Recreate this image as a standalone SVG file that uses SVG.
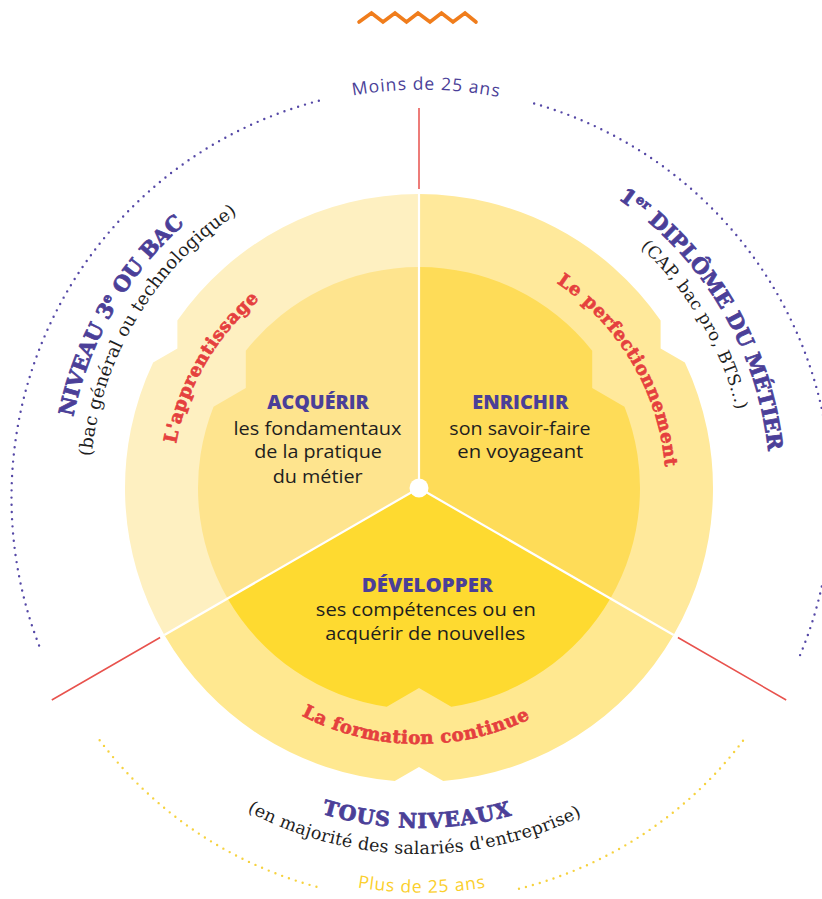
<svg xmlns="http://www.w3.org/2000/svg" width="822" height="899" viewBox="0 0 822 899">
<style>
.slabB{font-family:"DejaVu Serif","Liberation Serif",serif;font-weight:bold}
.slab{font-family:"DejaVu Serif","Liberation Serif",serif}
.sans{font-family:"Open Sans",Lato,"Liberation Sans",sans-serif}
.sansB{font-family:"Open Sans",Lato,"Liberation Sans",sans-serif;font-weight:800}
.pur{fill:#4B3F98}
.purB{fill:#4B3F98;stroke:#4B3F98;stroke-width:0.8;stroke-linejoin:round}
.redB{fill:#E5403E;stroke:#E5403E;stroke-width:0.7;stroke-linejoin:round}
.blk{fill:#1E1E1E}
.dotP{fill:none;stroke:#5548A6;stroke-width:2.4;stroke-linecap:round;stroke-dasharray:0 7.2}
.dotY{fill:none;stroke:#F6D23F;stroke-width:2.4;stroke-linecap:round;stroke-dasharray:0 7.2}
.redl{fill:none;stroke:#E8524D;stroke-width:1.5}
.div{fill:none;stroke:#FFFFFF;stroke-width:2.2}
</style>
<defs>
<path id="a353" d="M 66 488 A 353 353 0 0 1 772 488"/>
<path id="a329" d="M 90 488 A 329 329 0 0 1 748 488"/>
<path id="a247" d="M 172 488 A 247 247 0 0 1 666 488"/>
<path id="a351" d="M 68 488 A 351 351 0 0 1 770 488"/>
<path id="a327" d="M 92 488 A 327 327 0 0 1 746 488"/>
<path id="b256" d="M 163 488 A 256 256 0 0 0 675 488"/>
<path id="b340" d="M 79 488 A 340 340 0 0 0 759 488"/>
<path id="b366" d="M 53 488 A 366 366 0 0 0 785 488"/>
<path id="aMoins" d="M 13.5 497.7 A 408 408 0 0 1 829.5 497.7"/>
<path id="bPlus" d="M 26.5 497.7 A 395 395 0 0 0 816.5 497.7"/>
</defs>

<polyline id="zigzag" points="359,22 371.5,13 383,22 395,13 406.5,22 418,13 430,22 441.5,13 453,22 465,13 476,22" fill="none" stroke="#F07D1C" stroke-width="3.6" stroke-linecap="round" stroke-linejoin="miter"/>

<g id="age-arcs">
<path class="dotP" d="M 318.84 100.76 A 410 410 0 0 0 41.63 651.95"/>
<path class="dotP" d="M 534.17 103.48 A 410 410 0 0 1 797.5 661.19"/>
<path class="dotY" d="M 99.65 740.23 A 403 403 0 0 0 320.6 887.86"/>
<path class="dotY" d="M 518.99 888.73 A 403 403 0 0 0 743.35 740.23"/>
<text class="sans pur" font-size="17.5" font-weight="500" text-anchor="middle" transform="rotate(0.6 421.5 497.7)"><textPath href="#aMoins" startOffset="50%" textLength="147" lengthAdjust="spacing">Moins de 25 ans</textPath></text>
<text class="sans" fill="#FBCF2C" font-size="17.5" font-weight="500" text-anchor="middle"><textPath href="#bPlus" startOffset="50%" textLength="129" lengthAdjust="spacing">Plus de 25 ans</textPath></text>
</g>

<g id="sector-apprentissage">
<path fill="#FEF0C1" d="M 419 488 L 164.39 635 A 294 294 0 0 1 153.14 362.49 L 177.38 348.5 L 177.38 320.49 A 294 294 0 0 1 419 194 Z"/>
<path fill="#FEE48E" d="M 419 488 L 227.61 598.5 A 221 221 0 0 1 213.52 406.65 L 245.79 388 L 245.8 350.73 A 221 221 0 0 1 419 267 Z"/>
<text class="slabB redB" font-size="18" text-anchor="middle" transform="rotate(-60 419 488)"><textPath href="#a247" startOffset="50%" textLength="170" lengthAdjust="spacing">L'apprentissage</textPath></text>
<text class="sansB pur" font-size="19" text-anchor="middle" x="318" y="409.3" textLength="101.7" lengthAdjust="spacingAndGlyphs">ACQUÉRIR</text>
<text class="sans blk" font-size="18" text-anchor="middle" x="317.5" y="435" textLength="168" lengthAdjust="spacingAndGlyphs">les fondamentaux</text>
<text class="sans blk" font-size="18" text-anchor="middle" x="318" y="458" textLength="127.7" lengthAdjust="spacingAndGlyphs">de la pratique</text>
<text class="sans blk" font-size="18" text-anchor="middle" x="317.7" y="483" textLength="90" lengthAdjust="spacingAndGlyphs">du métier</text>
</g>

<g id="sector-perfectionnement">
<path fill="#FFE99B" d="M 419 488 L 419 194 A 294 294 0 0 1 660.62 320.49 L 660.62 348.5 L 684.86 362.49 A 294 294 0 0 1 673.61 635 Z"/>
<path fill="#FEDC58" d="M 419 488 L 419 267 A 221 221 0 0 1 592.2 350.73 L 592.21 388 L 624.48 406.65 A 221 221 0 0 1 610.39 598.5 Z"/>
<text class="slabB redB" font-size="18" text-anchor="middle" transform="rotate(59.45 419 488)"><textPath href="#a247" startOffset="50%" textLength="221" lengthAdjust="spacing">Le perfectionnement</textPath></text>
<text class="sansB pur" font-size="19" text-anchor="middle" x="520.3" y="409.3" textLength="96" lengthAdjust="spacingAndGlyphs">ENRICHIR</text>
<text class="sans blk" font-size="18" text-anchor="middle" x="520" y="435" textLength="141.3" lengthAdjust="spacingAndGlyphs">son savoir-faire</text>
<text class="sans blk" font-size="18" text-anchor="middle" x="520.3" y="458.3" textLength="126" lengthAdjust="spacingAndGlyphs">en voyageant</text>
</g>

<g id="sector-formation-continue">
<path fill="#FFE890" d="M 419 488 L 673.61 635 A 294 294 0 0 1 443.24 781 L 419 767 L 394.76 781 A 294 294 0 0 1 164.39 635 Z"/>
<path fill="#FEDA30" d="M 419 488 L 610.39 598.5 A 221 221 0 0 1 451.28 706.63 L 419 688 L 386.72 706.63 A 221 221 0 0 1 227.61 598.5 Z"/>
<text class="slabB redB" font-size="18" text-anchor="middle" transform="rotate(0.8 419 488)"><textPath href="#b256" startOffset="50%" textLength="237" lengthAdjust="spacing">La formation continue</textPath></text>
<text class="sansB pur" font-size="19" text-anchor="middle" x="427.3" y="592" textLength="131" lengthAdjust="spacingAndGlyphs">DÉVELOPPER</text>
<text class="sans blk" font-size="18" text-anchor="middle" x="425.8" y="616" textLength="220" lengthAdjust="spacingAndGlyphs">ses compétences ou en</text>
<text class="sans blk" font-size="18" text-anchor="middle" x="425.2" y="640" textLength="200" lengthAdjust="spacingAndGlyphs">acquérir de nouvelles</text>
</g>

<g id="connectors">
<path class="div" d="M 419 488 L 419 194 M 419 488 L 164.39 635 M 419 488 L 673.61 635"/>
<path class="redl" d="M 419 108 L 419 189 M 160.1 637.5 L 51.8 700 M 677.9 637.5 L 786.2 700"/>
<circle cx="419" cy="488" r="9.5" fill="#FFFFFF"/>
</g>

<g id="label-niveau-bac">
<text class="slabB purB" font-size="21" text-anchor="middle" transform="rotate(-60 419 488)"><textPath href="#a353" startOffset="50%" textLength="227" lengthAdjust="spacing">NIVEAU 3<tspan font-size="13" dy="-8">e</tspan><tspan dy="8"> OU BAC</tspan></textPath></text>
<text class="slab blk" font-size="18" text-anchor="middle" transform="rotate(-59 419 488)"><textPath href="#a329" startOffset="50%" textLength="293" lengthAdjust="spacing">(bac général ou technologique)</textPath></text>
</g>

<g id="label-diplome">
<text class="slabB purB" font-size="21" text-anchor="middle" transform="rotate(59.25 419 488)"><textPath href="#a351" startOffset="50%" textLength="303" lengthAdjust="spacing">1<tspan font-size="13" dy="-8">er</tspan><tspan dy="8"> DIPLÔME DU MÉTIER</tspan></textPath></text>
<text class="slab blk" font-size="17" text-anchor="middle" transform="rotate(59.4 419 488)"><textPath href="#a327" startOffset="50%" textLength="192" lengthAdjust="spacing">(CAP, bac pro, BTS...)</textPath></text>
</g>

<g id="label-tous-niveaux">
<text class="slabB purB" font-size="20.5" text-anchor="middle" transform="rotate(0.4 419 488)"><textPath href="#b340" startOffset="50%" textLength="193" lengthAdjust="spacing">TOUS NIVEAUX</textPath></text>
<text class="slab blk" font-size="17.5" text-anchor="middle" transform="rotate(0.8 419 488)"><textPath href="#b366" startOffset="50%" textLength="348" lengthAdjust="spacing">(en majorité des salariés d'entreprise)</textPath></text>
</g>
</svg>
